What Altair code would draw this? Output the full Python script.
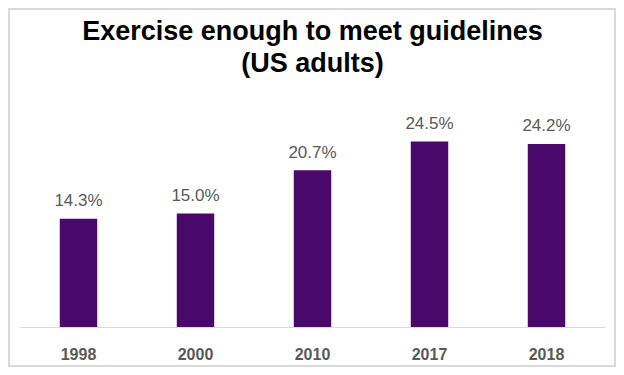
import altair as alt
import pandas as pd

years = ["1998", "2000", "2010", "2017", "2018"]
values = [14.3, 15.0, 20.7, 24.5, 24.2]

df = pd.DataFrame({"year": years, "value": values})

FONT = "Liberation Sans"
W, H = 585, 227

x = alt.X("year:N", sort=years, title=None,
          scale=alt.Scale(paddingInner=0.68, paddingOuter=0.34),
          axis=alt.Axis(labelAngle=0, ticks=False, domainColor="#d9d9d9", domainWidth=1,
                        labelFont=FONT, labelFontSize=16, labelFontWeight="bold",
                        labelColor="#595959", labelPadding=19, grid=False))
y = alt.Y("value:Q", title=None, scale=alt.Scale(domain=[0, 30]), axis=None)

base = alt.Chart(df)

bars = base.mark_bar(color="#4b086b").encode(x=x, y=y)
labels = base.transform_calculate(
    label="format(datum.value, '.1f') + '%'"
).mark_text(font=FONT, fontSize=17, color="#595959", baseline="alphabetic", dy=-12.5).encode(
    x=x, y=y, text="label:N")

border = alt.Chart(pd.DataFrame({"a": [0]})).mark_rect(
    fill="transparent", stroke="#d9d9d9", strokeWidth=2
).encode(x=alt.value(-11), x2=alt.value(W + 10), y=alt.value(-91), y2=alt.value(H + 39))

chart = alt.layer(bars, labels, border).properties(
    width=W, height=H,
    padding={"left": 12, "top": 92, "right": 11, "bottom": 40},
    autosize=alt.AutoSizeParams(type="none"),
    title=alt.TitleParams(
        text=["Exercise enough to meet guidelines", "(US adults)"],
        font=FONT, fontSize=27, fontWeight="bold", color="#000000",
        anchor="middle", lineHeight=32, baseline="bottom", offset=-97),
).configure(background="white", view=alt.ViewConfig(stroke="transparent"))

chart.save("out.html", embed_options={"renderer": "svg", "actions": False})
